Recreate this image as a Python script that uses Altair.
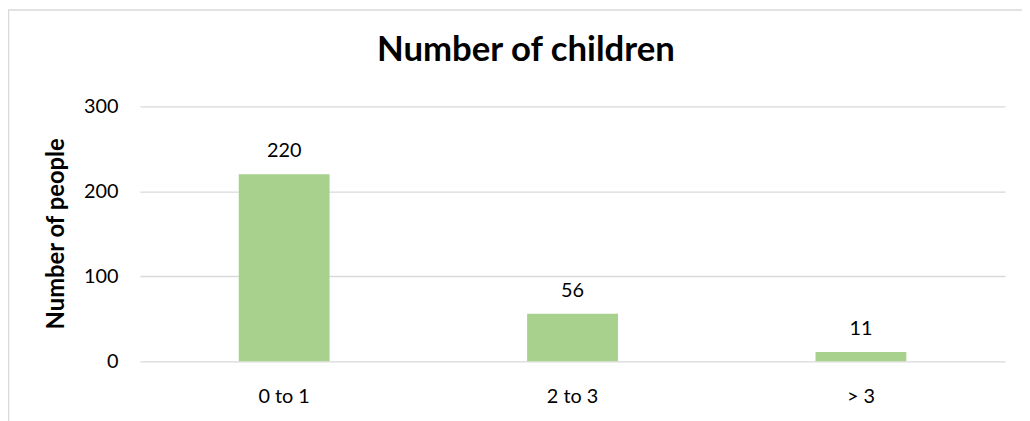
import altair as alt
import pandas as pd

categories = ["0 to 1", "2 to 3", "> 3"]
values = [220, 56, 11]
y_ticks = [0, 100, 200, 300]

df = pd.DataFrame({"group": categories, "people": values})

FONT = "Lato"
W, H = 872, 257

x_enc = alt.X(
    "group:N",
    sort=categories,
    scale=alt.Scale(paddingInner=0.685, paddingOuter=0.3425),
    axis=alt.Axis(
        title=None, labelAngle=0, domain=False, ticks=False,
        labelPadding=25, labelFont=FONT, labelFontSize=20, labelColor="#000000",
        labelBaseline="top",
    ),
)
y_enc = alt.Y(
    "people:Q",
    scale=alt.Scale(domain=[0, 300], nice=False),
    axis=alt.Axis(
        values=y_ticks, title="Number of people", domain=False, ticks=False,
        labelPadding=22, labelFont=FONT, labelFontSize=20, labelColor="#000000",
        gridColor="#d9d9d9", gridWidth=1.4,
        titleFont=FONT, titleFontSize=24, titleFontWeight="bold", titleColor="#000000",
        titleAngle=270, titleX=-77, titleY=128, titleAlign="center", titleBaseline="alphabetic",
    ),
)

bars = alt.Chart(df).mark_bar(color="#A9D18E").encode(x=x_enc, y=y_enc)
labels = alt.Chart(df).mark_text(
    font=FONT, fontSize=20, color="#000000", baseline="alphabetic", dy=-17
).encode(x=alt.X("group:N", sort=categories), y="people:Q", text="people:Q")

frame = alt.Chart(pd.DataFrame({"k": [0]})).mark_rect(
    fillOpacity=0, stroke="#d9d9d9", strokeWidth=1.5
).encode(
    x=alt.value(-132.5), x2=alt.value(1000), y=alt.value(-97), y2=alt.value(400)
)

chart = alt.layer(frame, bars, labels).properties(
    width=W,
    height=H,
    title=alt.TitleParams(
        "Number of children", font=FONT, fontSize=35, fontWeight="bold",
        color="#000000", anchor="middle", frame="group", baseline="alphabetic",
        offset=-86.75, dx=-47,
    ),
    autosize=alt.AutoSizeParams(type="none"),
    padding={"left": 133, "top": 97.5, "right": 17, "bottom": 58},
).configure_view(stroke=None)

chart.save("out.html", embed_options={"renderer": "svg", "actions": False})
